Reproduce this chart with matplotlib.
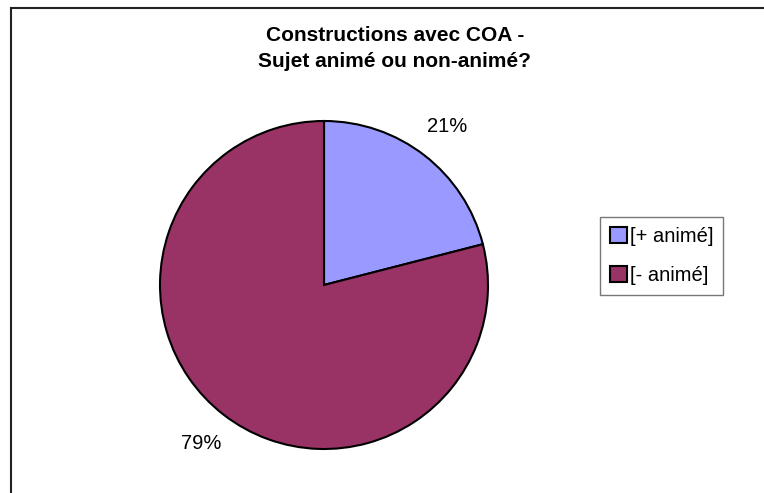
import matplotlib
matplotlib.use("Agg")
import matplotlib.pyplot as plt
from matplotlib.lines import Line2D
from matplotlib.patches import Patch
import numpy as np

plt.rcParams['font.family'] = ['Liberation Sans', 'DejaVu Sans']

title_lines = ["Constructions avec COA -", "Sujet animé ou non-animé?"]
categories = ["[+ animé]", "[- animé]"]
values = [21, 79]
colors = ["#9999FF", "#993366"]

fig = plt.figure(figsize=(7.64, 4.93), dpi=100)
W, H = 764, 493

# outer border (left and top visible)
fig.add_artist(Line2D([11 / W, 11 / W], [0, 1 - 8 / H], color="#222222", lw=1.5, transform=fig.transFigure))
fig.add_artist(Line2D([11 / W, 1], [1 - 8 / H, 1 - 8 / H], color="#222222", lw=1.5, transform=fig.transFigure))

ax = fig.add_axes([160 / W, (H - 449) / H, 328 / W, 328 / H])
wedges, texts, autotexts = ax.pie(values, colors=colors, startangle=90, counterclock=False,
                                  autopct=lambda p: f"{p:.0f}%", pctdistance=1.22,
                                  wedgeprops=dict(edgecolor="black", linewidth=1.5),
                                  textprops=dict(fontsize=14.5))
ax.set_aspect('equal')
ax.set_xlim(-1, 1)
ax.set_ylim(-1, 1)

for line, yb in zip(title_lines, [41, 67]):
    fig.text(395 / W, 1 - yb / H, line, ha="center", va="baseline", fontsize=15,
             fontweight="bold")

handles = [Patch(facecolor=c, edgecolor="black", linewidth=1.5) for c in colors]
leg = fig.legend(handles, categories, loc="center", bbox_to_anchor=(661.5 / W, 1 - 256 / H),
                 frameon=True, fancybox=False, edgecolor="#555555", fontsize=14.5,
                 handlelength=0.85, handleheight=0.85, handletextpad=0.15,
                 labelspacing=0.95, borderpad=0.5, borderaxespad=0)
leg.get_frame().set_linewidth(1.0)

fig.savefig("out.png", dpi=100)
